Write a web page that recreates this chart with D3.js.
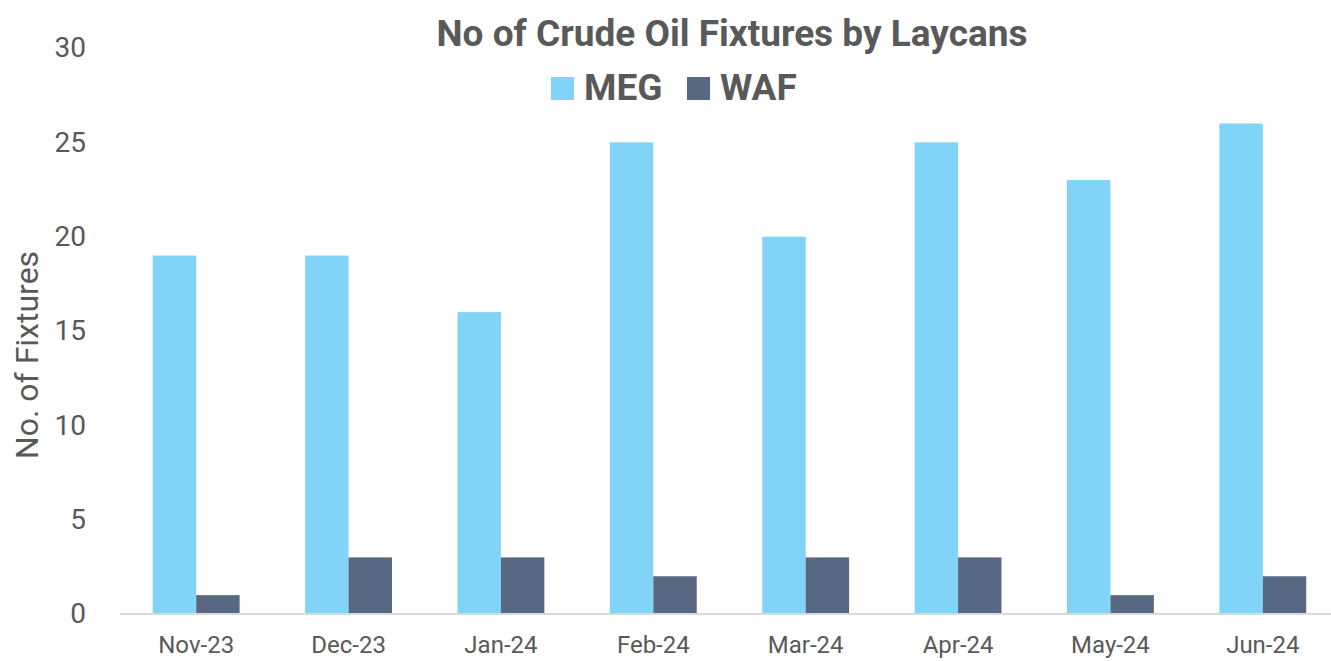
<!DOCTYPE html>
<html>
<head>
<meta charset="utf-8">
<script src="https://cdn.jsdelivr.net/npm/d3@7"></script>
<style>
  body { margin: 0; background: #fff; }
  text { font-family: Roboto, "Noto Sans", sans-serif; fill: #595959; }
</style>
</head>
<body>
<svg width="1331" height="661"></svg>
<script>
const months = ['Nov-23', 'Dec-23', 'Jan-24', 'Feb-24', 'Mar-24', 'Apr-24', 'May-24', 'Jun-24'];
const seriesNames = ['MEG', 'WAF'];
const meg = [19, 19, 16, 25, 20, 25, 23, 26];
const waf = [1, 3, 3, 2, 3, 3, 1, 2];
const yTicks = [0, 5, 10, 15, 20, 25, 30];

const colors = { MEG: '#81d3f8', WAF: '#586782' };

let svg = d3.select('svg');

let x = d3.scaleBand()
          .domain(months)
          .range([120, 1339])
          .paddingInner(0.43)
          .paddingOuter(0.215);

let x1 = d3.scaleBand()
           .domain(seriesNames)
           .range([0, x.bandwidth()]);

let y = d3.scaleLinear()
          .domain([0, 30])
          .range([614, 48]);

// bars
let rows = months.map((m, i) => ({ month: m, MEG: meg[i], WAF: waf[i] }));

svg.append('g')
   .selectAll('g')
   .data(rows)
   .enter()
   .append('g')
   .attr('transform', d => 'translate(' + x(d.month) + ',0)')
   .selectAll('rect')
   .data(d => seriesNames.map(k => ({ key: k, value: d[k] })))
   .enter()
   .append('rect')
   .attr('x', d => x1(d.key))
   .attr('width', x1.bandwidth())
   .attr('y', d => y(d.value))
   .attr('height', d => y(0) - y(d.value))
   .attr('fill', d => colors[d.key]);

// x axis
let xAxis = svg.append('g')
               .attr('transform', 'translate(0,' + y(0) + ')')
               .call(d3.axisBottom(x).tickSize(0).tickPadding(22));
xAxis.select('.domain').attr('stroke', '#d9d9d9').attr('stroke-width', 2)
     .attr('d', 'M120,0H1339');
xAxis.selectAll('text').style('font-size', '24px').attr('fill', '#595959');

// y axis
let yAxis = svg.append('g')
               .attr('transform', 'translate(86,0)')
               .call(d3.axisLeft(y).tickValues(yTicks).tickSize(0).tickPadding(0));
yAxis.select('.domain').remove();
yAxis.selectAll('text').style('font-size', '28px').attr('fill', '#595959');

// y axis title
svg.append('text')
   .attr('transform', 'translate(38,355) rotate(-90)')
   .attr('text-anchor', 'middle')
   .style('font-size', '32px')
   .text('No. of Fixtures');

// title
svg.append('text')
   .attr('x', 732)
   .attr('y', 46)
   .attr('text-anchor', 'middle')
   .style('font-size', '37px')
   .style('font-weight', 'bold')
   .text('No of Crude Oil Fixtures by Laycans');

// legend
let legendX = [551, 687];
let legend = svg.append('g')
                .selectAll('g')
                .data(seriesNames)
                .enter()
                .append('g')
                .attr('transform', (d, i) => 'translate(' + legendX[i] + ',77)');
legend.append('rect')
      .attr('width', 23)
      .attr('height', 23)
      .attr('fill', d => colors[d]);
legend.append('text')
      .attr('x', 33)
      .attr('y', 23)
      .style('font-size', '37px')
      .style('font-weight', 'bold')
      .text(d => d);
</script>
</body>
</html>
